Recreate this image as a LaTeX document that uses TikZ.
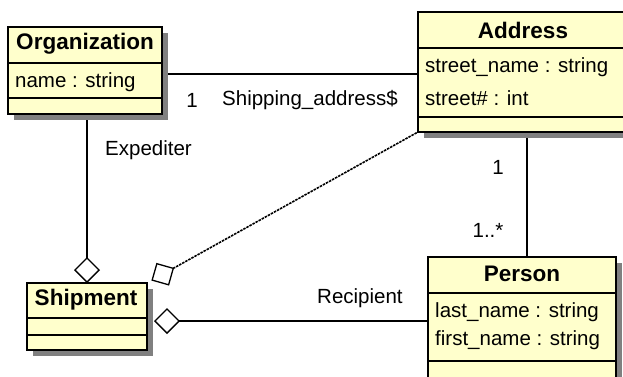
\documentclass[tikz,border=0pt]{standalone}
\usepackage{fontspec}
\setmainfont{Liberation Sans}
\usetikzlibrary{arrows.meta,backgrounds}

\definecolor{classfill}{RGB}{255,255,204}
\definecolor{shadowgray}{RGB}{128,128,128}

\tikzset{
  classbox/.style={draw, line width=1.8pt, fill=classfill, inner sep=0pt, outer sep=0pt, anchor=north west},
  classname/.style={font=\fontsize{22.5}{26}\selectfont\bfseries, inner sep=0pt},
  attr/.style={anchor=west, inner sep=0pt},
  sepline/.style={line width=1.6pt},
  assoc/.style={line width=1.6pt},
  dotline/.style={line width=1.6pt, dash pattern=on 2.5pt off 1pt},
  aggr/.style={{Diamond[open, length=26pt, width=26pt, line width=1.3pt]}-},
  shade/.style={fill=shadowgray},
  lbl/.style={inner sep=0pt},
}

\begin{document}
\begin{tikzpicture}[x=1pt, y=-1pt, font=\fontsize{20.5}{24}\selectfont]

\useasboundingbox (0,0) rectangle (623,377);

% Class boxes
\node[classbox, minimum width=154pt, minimum height=87pt] (org) at (8,27) {};
\node[classbox, minimum width=210pt, minimum height=120pt] (addr) at (418,12) {};
\node[classbox, minimum width=120pt, minimum height=67pt] (ship) at (27,283) {};
\node[classbox, minimum width=188pt, minimum height=121pt] (person) at (428,257) {};

% Compartment lines
\draw[sepline] ([yshift=-36pt]org.north west) -- ([yshift=-36pt]org.north east);
\draw[sepline] ([yshift=-71pt]org.north west) -- ([yshift=-71pt]org.north east);
\draw[sepline] ([yshift=-36pt]addr.north west) -- ([yshift=-36pt]addr.north east);
\draw[sepline] ([yshift=-105pt]addr.north west) -- ([yshift=-105pt]addr.north east);
\draw[sepline] ([yshift=-35pt]ship.north west) -- ([yshift=-35pt]ship.north east);
\draw[sepline] ([yshift=-52pt]ship.north west) -- ([yshift=-52pt]ship.north east);
\draw[sepline] ([yshift=-36pt]person.north west) -- ([yshift=-36pt]person.north east);
\draw[sepline] ([yshift=-104pt]person.north west) -- ([yshift=-104pt]person.north east);

% Class names and attributes
\node[classname] (orgtitle) at (85,44) {Organization};
\node[attr] (orgname) at (15,82) {name : string};
\node[classname] (addrtitle) at (523,30) {Address};
\node[attr] (addrstreet) at (425,67) {street\_name : string};
\node[attr] (addrno) at (425,98) {street\# : int};
\node[classname] (shiptitle) at (86,300) {Shipment};
\node[classname] (persontitle) at (522,274) {Person};
\node[attr] (personlast) at (435,312) {last\_name : string};
\node[attr] (personfirst) at (435,340) {first\_name : string};

% Associations, then the shadows over their ends
\begin{scope}[on background layer]
\draw[assoc] ([yshift=-3.5pt]org.east) -- ([yshift=-3.5pt]org.east -| addr.west);
\draw[assoc, aggr] (ship.north) -- (ship.north |- org.south);
\draw[assoc, aggr, shorten <=7pt] ([yshift=-4.5pt]ship.east) -- ([yshift=-4.5pt]ship.east -| person.west);
\draw[assoc] ([xshift=5pt]person.north) -- ([xshift=5pt]person.north |- addr.south);
\draw[dotline, aggr, shorten <=5pt] (ship.north east) -- (addr.south west);
\fill[shade] ([shift={(6,6)}]org.north west) rectangle ([shift={(6,6)}]org.south east);
\fill[shade] ([shift={(6,6)}]addr.north west) rectangle ([shift={(6,6)}]addr.south east);
\fill[shade] ([shift={(6,6)}]ship.north west) rectangle ([shift={(6,6)}]ship.south east);
\fill[shade] ([shift={(6,6)}]person.north west) rectangle ([shift={(6,6)}]person.south east);
\end{scope}

% Role names and multiplicities
\node[lbl] (mult1) at (192,100) {1};
\node[lbl, anchor=west] (shipaddr) at (222,100) {Shipping\_address\$};
\node[lbl, anchor=west] (expediter) at (105,150) {Expediter};
\node[lbl, anchor=west] (recipient) at (317,298) {Recipient};
\node[lbl] (mult2) at (498,167) {1};
\node[lbl] (mult3) at (488,230) {1..*};

\end{tikzpicture}
\end{document}
